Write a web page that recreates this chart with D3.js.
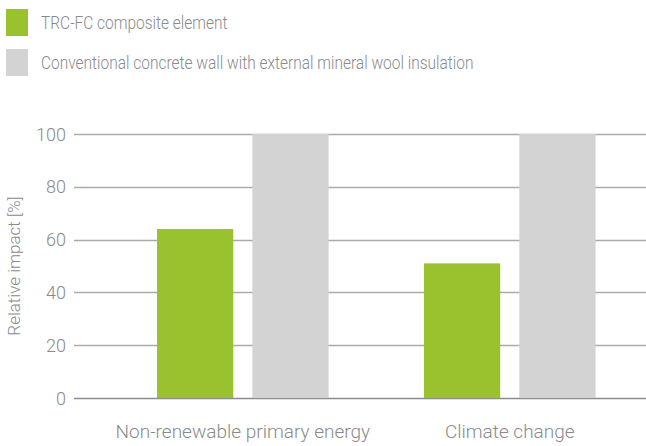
<!DOCTYPE html>
<html>
<head>
<meta charset="utf-8">
<script src="https://cdn.jsdelivr.net/npm/d3@7"></script>
<style>
  body { margin: 0; background: #fff; }
  text { font-family: Roboto, "Liberation Sans", sans-serif; font-weight: 300; fill: #8a8a8a; }
</style>
</head>
<body>
<div id="chart"></div>
<script>
const width = 646;
const height = 446;

// data
const categories = ["Non-renewable primary energy", "Climate change"];
const seriesNames = ["TRC-FC composite element", "Conventional concrete wall with external mineral wool insulation"];
const trcValues = [64, 51];
const conventionalValues = [100, 100];
const yTicks = [0, 20, 40, 60, 80, 100];

const colors = ["#9ac12e", "#d3d3d3"];

const svg = d3.select("#chart").append("svg")
  .attr("width", width)
  .attr("height", height);

const plot = { left: 74, right: 646, top: 134, bottom: 398 };

const x = d3.scaleBand()
  .domain(categories)
  .range([plot.left, plot.right])
  .paddingInner(0.357)
  .paddingOuter(0.25)
  .align(0.622);

const xSub = d3.scaleBand()
  .domain([0, 1])
  .range([0, x.bandwidth()])
  .paddingInner(0.2);

const y = d3.scaleLinear()
  .domain([0, 100])
  .range([plot.bottom, plot.top]);

// gridlines
svg.append("g")
  .selectAll("line")
  .data(yTicks)
  .join("line")
  .attr("x1", plot.left)
  .attr("x2", plot.right)
  .attr("y1", d => Math.round(y(d)) + 0.5)
  .attr("y2", d => Math.round(y(d)) + 0.5)
  .attr("stroke", d => d === 0 ? "#8c8c8c" : "#aaaaaa")
  .attr("stroke-width", 1.3);

// tick labels
svg.append("g")
  .selectAll("text")
  .data(yTicks)
  .join("text")
  .attr("x", 66)
  .attr("y", d => y(d) + 6.5)
  .attr("text-anchor", "end")
  .style("font-size", "18px")
  .text(d => d);

// axis title
svg.append("text")
  .attr("transform", `translate(20,${(plot.top + plot.bottom) / 2}) rotate(-90)`)
  .attr("text-anchor", "middle")
  .style("font-size", "17px")
  .text("Relative impact [%]");

// bars
const rows = categories.map((c, i) => ({ cat: c, values: [trcValues[i], conventionalValues[i]] }));

const group = svg.append("g")
  .selectAll("g")
  .data(rows)
  .join("g")
  .attr("transform", d => `translate(${x(d.cat)},0)`);

group.selectAll("rect")
  .data(d => d.values.map((v, k) => ({ k, v })))
  .join("rect")
  .attr("x", d => xSub(d.k))
  .attr("width", xSub.bandwidth())
  .attr("y", d => y(d.v))
  .attr("height", d => y(0) - y(d.v))
  .attr("fill", d => colors[d.k]);

// category labels
svg.append("g")
  .selectAll("text")
  .data(categories)
  .join("text")
  .attr("x", d => x(d) + x.bandwidth() / 2)
  .attr("y", 438)
  .attr("text-anchor", "middle")
  .style("font-size", "19px")
  .text(d => d);

// legend
const legend = svg.append("g")
  .selectAll("g")
  .data(seriesNames)
  .join("g")
  .attr("transform", (d, i) => `translate(0,${i * 40})`);

legend.append("rect")
  .attr("x", 6)
  .attr("y", 9)
  .attr("width", 22)
  .attr("height", 27)
  .attr("fill", (d, i) => colors[i]);

// legend type is narrower in the reference, squeeze it horizontally
legend.append("text")
  .attr("transform", "translate(41,29) scale(0.815,1)")
  .style("font-size", "19px")
  .text(d => d);
</script>
</body>
</html>
